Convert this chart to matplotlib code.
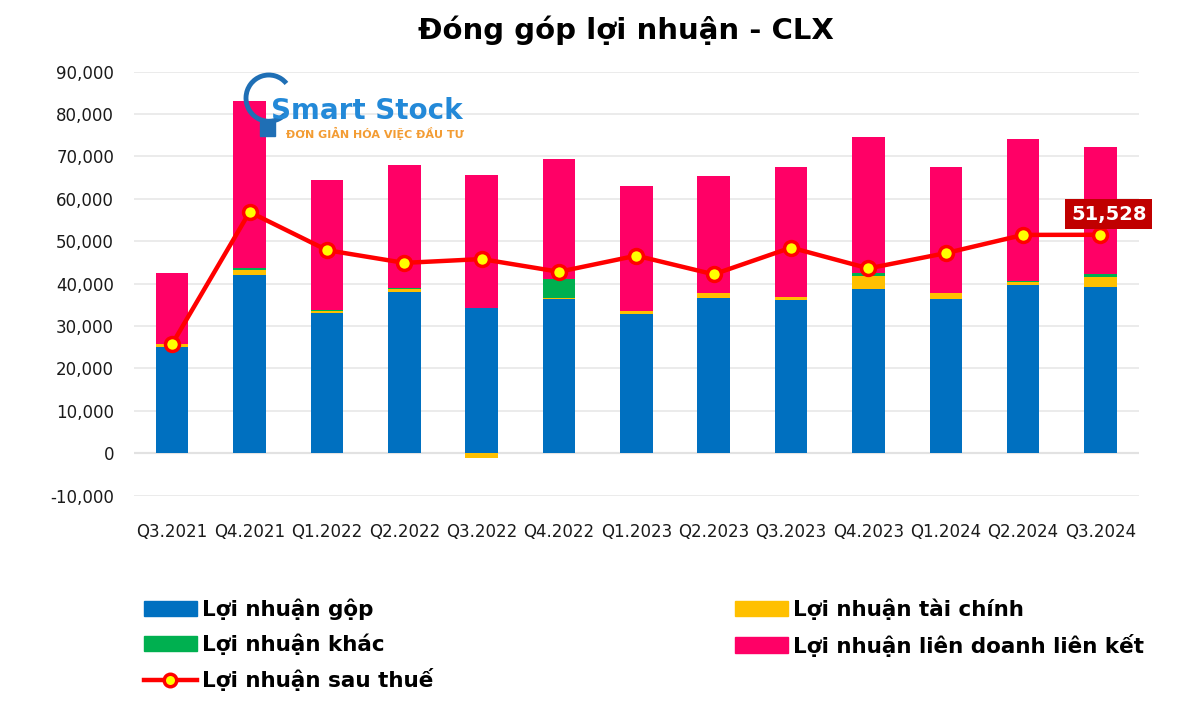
import numpy as np
import matplotlib
matplotlib.use("Agg")
import matplotlib.pyplot as plt
from matplotlib.patches import Patch, Arc, Rectangle
from matplotlib.lines import Line2D
from matplotlib.ticker import FuncFormatter

# data
quarters = ["Q3.2021", "Q4.2021", "Q1.2022", "Q2.2022", "Q3.2022", "Q4.2022", "Q1.2023",
            "Q2.2023", "Q3.2023", "Q4.2023", "Q1.2024", "Q2.2024", "Q3.2024"]
ln_gop = [25100, 42000, 33000, 38100, 34300, 36500, 32800, 36700, 36100, 38700, 36500, 39700, 39100]
ln_tai_chinh = [600, 1300, 600, 700, -1000, 100, 700, 1100, 800, 3100, 1300, 800, 2500]
ln_khac = [100, 400, 100, 100, 0, 4500, 0, 0, 0, 800, 100, 100, 600]
ln_lien_doanh = [16600, 39300, 30700, 29000, 31400, 28200, 29600, 27600, 30500, 32000, 29600, 33400, 30000]
ln_sau_thue = [25800, 56900, 47900, 44900, 45800, 42800, 46600, 42200, 48500, 43600, 47200, 51500, 51528]

BLUE = "#0070C0"
YELLOW = "#FFC000"
GREEN = "#00B050"
PINK = "#FF0066"
RED = "#FF0000"

plt.rcParams["font.family"] = ["DejaVu Sans"]

fig = plt.figure(figsize=(12, 7.01), dpi=100)
ax = fig.add_axes([0.1113, 0.2929, 0.838, 0.6049])

x = np.arange(len(quarters))
w = 0.42

# stacked bars: positives stack upward, negatives downward
pos_base = np.zeros(len(x))
neg_base = np.zeros(len(x))
for vals, col in [(ln_gop, BLUE), (ln_tai_chinh, YELLOW), (ln_khac, GREEN), (ln_lien_doanh, PINK)]:
    v = np.array(vals, dtype=float)
    bottoms = np.where(v >= 0, pos_base, neg_base)
    ax.bar(x, v, w, bottom=bottoms, color=col, zorder=2, linewidth=0)
    pos_base += np.where(v >= 0, v, 0)
    neg_base += np.where(v < 0, v, 0)

ax.plot(x, ln_sau_thue, color=RED, lw=3.2, marker="o", ms=10,
        markerfacecolor="#FFFF00", markeredgecolor=RED, markeredgewidth=2.5, zorder=4)

# label for the last point
ax.annotate(f"{ln_sau_thue[-1]:,}", xy=(x[-1], ln_sau_thue[-1]), xytext=(6, 8),
            textcoords="offset points", ha="center", va="bottom",
            fontsize=14, fontweight="bold", color="white", zorder=5,
            bbox=dict(boxstyle="square,pad=0.3", fc="#C00000", ec="none"))

ax.set_xlim(-0.5, len(x) - 0.5)
ax.set_ylim(-10000, 90000)
ax.set_yticks(np.arange(-10000, 90001, 10000))
ax.yaxis.set_major_formatter(FuncFormatter(lambda v, p: f"{int(v):,}"))
ax.set_xticks(x)
ax.set_xticklabels(quarters)
ax.tick_params(axis="both", length=0, labelsize=12, colors="#1a1a1a")
ax.tick_params(axis="y", pad=14)
ax.tick_params(axis="x", pad=20)
ax.grid(axis="y", color="#E8E8E8", lw=1.2, zorder=0)
ax.axhline(0, color="#C8C8C8", lw=1.5, zorder=1)
for s in ax.spines.values():
    s.set_visible(False)

fig.suptitle("Đóng góp lợi nhuận - CLX", fontsize=21, fontweight="bold", x=0.522, y=0.978)

# watermark logo: bulb outline + text
fig.add_artist(Arc((0.224, 0.860), 0.038, 0.066, theta1=55, theta2=300,
                   transform=fig.transFigure, color="#1F6FB5", lw=3.5, zorder=6))
fig.add_artist(Rectangle((0.217, 0.806), 0.012, 0.020, transform=fig.transFigure,
                         color="#1F6FB5", zorder=6))
fig.text(0.226, 0.842, "Smart Stock", fontsize=20, color="#2389D8", ha="left", va="center",
         fontweight="bold", zorder=7)
fig.text(0.238, 0.810, "ĐƠN GIẢN HÓA VIỆC ĐẦU TƯ", fontsize=8, color="#F39C33",
         ha="left", va="center", fontweight="bold", zorder=7)

handles = [
    Patch(color=BLUE, label="Lợi nhuận gộp"),
    Patch(color=GREEN, label="Lợi nhuận khác"),
    Line2D([], [], color=RED, lw=3.2, marker="o", ms=9, markerfacecolor="#FFFF00",
           markeredgecolor=RED, markeredgewidth=2.5, label="Lợi nhuận sau thuế"),
    Patch(color=YELLOW, label="Lợi nhuận tài chính"),
    Patch(color=PINK, label="Lợi nhuận liên doanh liên kết"),
]
leg = fig.legend(handles=handles, ncol=2, loc="upper left", bbox_to_anchor=(0.120, 0.146),
                 frameon=False, prop=dict(size=15.5, weight="bold"), handlelength=2.45,
                 handleheight=0.7, handletextpad=0.25, columnspacing=14.0, labelspacing=0.62,
                 borderaxespad=0, borderpad=0)

fig.savefig("out.png", dpi=100)
